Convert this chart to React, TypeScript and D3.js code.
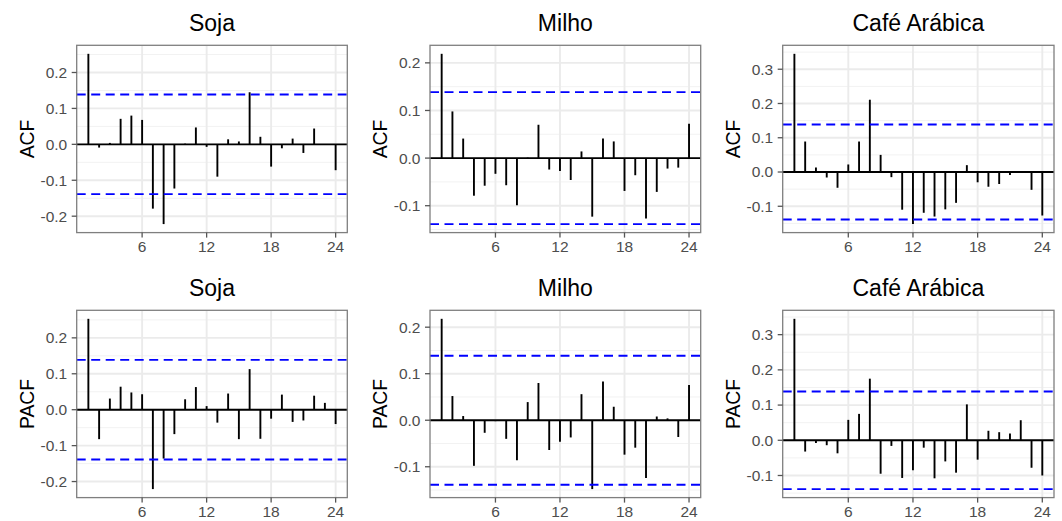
import React from "react";
import * as d3 from "d3";

// ACF / PACF values for lags 1..24
const lags = d3.range(1, 25);
const xTicks = [6, 12, 18, 24];
const ciLimit = 0.1386;

const sojaAcf = [0.252, -0.009, 0.004, 0.071, 0.080, 0.068, -0.179, -0.222, -0.123, 0.002, 0.047, -0.007,
  -0.090, 0.014, 0.008, 0.145, 0.021, -0.062, -0.011, 0.016, -0.024, 0.044, 0.001, -0.072];
const milhoAcf = [0.219, 0.098, 0.041, -0.079, -0.058, -0.033, -0.057, -0.099, 0.001, 0.070, -0.024, -0.027,
  -0.046, 0.014, -0.123, 0.041, 0.035, -0.069, -0.036, -0.127, -0.071, -0.022, -0.020, 0.072];
const cafeAcf = [0.345, 0.089, 0.013, -0.016, -0.046, 0.022, 0.089, 0.211, 0.050, -0.015, -0.110, -0.152,
  -0.119, -0.130, -0.109, -0.090, 0.020, -0.030, -0.043, -0.035, -0.009, -0.002, -0.052, -0.127];
const sojaPacf = [0.253, -0.082, 0.031, 0.064, 0.048, 0.043, -0.221, -0.136, -0.068, 0.029, 0.063, 0.010,
  -0.036, 0.045, -0.082, 0.113, -0.081, -0.025, 0.042, -0.034, -0.030, 0.039, 0.019, -0.040];
const milhoPacf = [0.218, 0.052, 0.009, -0.098, -0.027, -0.002, -0.040, -0.086, 0.039, 0.080, -0.064, -0.046,
  -0.037, 0.056, -0.148, 0.083, 0.029, -0.074, -0.059, -0.124, 0.008, 0.004, -0.036, 0.076];
const cafePacf = [0.345, -0.032, -0.008, -0.014, -0.037, 0.058, 0.075, 0.175, -0.095, -0.016, -0.107, -0.085,
  -0.021, -0.108, -0.060, -0.092, 0.102, -0.055, 0.027, 0.023, 0.019, 0.057, -0.078, -0.100];

const titles = ["Soja", "Milho", "Café Arábica"];
const rowLabels = ["ACF", "PACF"];
const rows = [[sojaAcf, milhoAcf, cafeAcf], [sojaPacf, milhoPacf, cafePacf]];

const FONT = "'Liberation Sans', Arial, Helvetica, sans-serif";
const colLefts = [76.7, 430, 782.7];
const colWidths = [270.6, 270.7, 271.3];
const rowTops = [45.3, 310.3];
const panelH = 187.3;

const fmt = (v: number) => {
  const s = Math.abs(v) < 1e-9 ? 0 : v;
  return s.toFixed(1);
};

function Panel({ values, title, yLabel, left, top, width, height }: any) {
  const x = d3.scaleLinear().domain([-0.085, 25.085]).range([0, width]);
  const lo = Math.min(d3.min(values) as number, -ciLimit);
  const hi = Math.max(d3.max(values) as number, ciLimit);
  const pad = (hi - lo) * 0.05;
  const y = d3.scaleLinear().domain([lo - pad, hi + pad]).range([height, 0]);

  const major = d3.range(Math.ceil((lo - pad) * 10 - 1e-9), Math.floor((hi + pad) * 10 + 1e-9) + 1).map(d => d / 10);
  const minor = d3.range(Math.ceil((lo - pad) * 10 - 1e-9) - 1, Math.floor((hi + pad) * 10 + 1e-9) + 1)
    .map(d => d / 10 + 0.05)
    .filter(d => d > lo - pad && d < hi + pad);

  return (
    <g transform={`translate(${left},${top})`}>
      <text x={width / 2} y={-14.5} textAnchor="middle" fontSize={23} fill="#000" fontFamily={FONT}>{title}</text>
      <rect x={0} y={0} width={width} height={height} fill="#fff" />
      {minor.map(d => (
        <line key={"mn" + d} x1={0} x2={width} y1={y(d)} y2={y(d)} stroke="#F2F2F2" strokeWidth={1} />
      ))}
      {major.map(d => (
        <line key={"mj" + d} x1={0} x2={width} y1={y(d)} y2={y(d)} stroke="#EBEBEB" strokeWidth={1.9} />
      ))}
      {xTicks.map(d => (
        <line key={"vx" + d} x1={x(d)} x2={x(d)} y1={0} y2={height} stroke="#EBEBEB" strokeWidth={1.9} />
      ))}
      <line x1={0} x2={width} y1={y(0)} y2={y(0)} stroke="#000" strokeWidth={1.9} />
      {lags.map((lag, i) => (
        <line key={"b" + lag} x1={x(lag)} x2={x(lag)} y1={y(0)} y2={y(values[i])} stroke="#000" strokeWidth={1.9} />
      ))}
      {[ciLimit, -ciLimit].map(c => (
        <line key={"ci" + c} x1={0} x2={width} y1={y(c)} y2={y(c)} stroke="#0000FF" strokeWidth={1.9}
          strokeDasharray="9 5.5" />
      ))}
      <rect x={0} y={0} width={width} height={height} fill="none" stroke="#7F7F7F" strokeWidth={1.3} />
      {major.map(d => (
        <g key={"yt" + d}>
          <line x1={-5} x2={0} y1={y(d)} y2={y(d)} stroke="#555" strokeWidth={1.3} />
          <text x={-9.5} y={y(d)} dy="0.35em" textAnchor="end" fontSize={15.5} fill="#4D4D4D" fontFamily={FONT}>{fmt(d)}</text>
        </g>
      ))}
      {xTicks.map(d => (
        <g key={"xt" + d}>
          <line x1={x(d)} x2={x(d)} y1={height} y2={height + 5} stroke="#555" strokeWidth={1.3} />
          <text x={x(d)} y={height + 19.8} textAnchor="middle" fontSize={15.5} fill="#4D4D4D" fontFamily={FONT}>{d}</text>
        </g>
      ))}
      <text transform={`translate(${-43},${height / 2}) rotate(-90)`} textAnchor="middle" fontSize={19.4}
        fill="#000" fontFamily={FONT}>{yLabel}</text>
    </g>
  );
}

export default function App() {
  return (
    <svg width={1062} height={521} style={{ position: "absolute", left: 0, top: 0, background: "#fff" }}>
      <rect width={1062} height={521} fill="#fff" />
      {rows.map((row, r) =>
        row.map((vals, c) => (
          <Panel key={`${r}-${c}`} values={vals} title={titles[c]} yLabel={rowLabels[r]}
            left={colLefts[c]} top={rowTops[r]} width={colWidths[c]} height={panelH} />
        ))
      )}
    </svg>
  );
}
